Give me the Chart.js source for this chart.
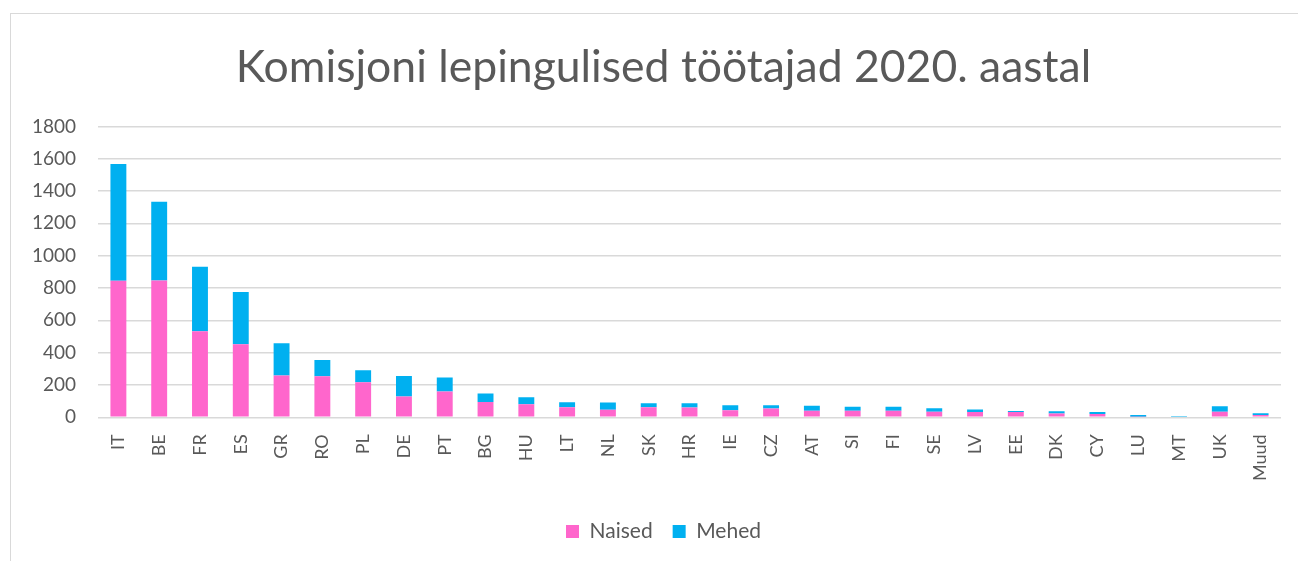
<!DOCTYPE html>
<html>
<head>
<meta charset="utf-8">
<script src="https://cdn.jsdelivr.net/npm/chart.js@4.4.0/dist/chart.umd.min.js"></script>
<style>
  html, body { margin: 0; padding: 0; background: #fff; }
  #frame {
    position: absolute; left: 10px; top: 13px; width: 1300px; height: 560px;
    border: 1px solid #d9d9d9; box-sizing: border-box;
  }
  #wrap { position: absolute; left: 0; top: 0; width: 1298px; height: 561px; }
</style>
</head>
<body>
<div id="frame"></div>
<div id="wrap"><canvas id="bar-chart"></canvas></div>
<script>
  // countries
  const countries = [
    "IT", "BE", "FR", "ES", "GR", "RO", "PL", "DE", "PT", "BG", "HU", "LT", "NL", "SK", "HR",
    "IE", "CZ", "AT", "SI", "FI", "SE", "LV", "EE", "DK", "CY", "LU", "MT", "UK", "Muud",
  ];
  // women / men per country
  const naised = [
    845, 847, 532, 452, 258, 254, 217, 128, 159, 95, 80, 62, 47, 62, 60,
    43, 54, 41, 40, 40, 35, 33, 33, 23, 21, 4, 5, 35, 14,
  ];
  const mehed = [
    722, 487, 400, 323, 200, 101, 74, 128, 87, 53, 44, 31, 44, 25, 27,
    31, 20, 31, 25, 25, 21, 16, 6, 14, 12, 10, 3, 33, 11,
  ];
  const yTicks = [0, 200, 400, 600, 800, 1000, 1200, 1400, 1600, 1800];

  const textColor = "#595959";
  const gridColor = "#d9d9d9";
  const fontFamily = "Lato, 'Open Sans', sans-serif";

  // title and legend sit a bit right of centre in the original
  const nudgeRight = {
    id: "nudgeRight",
    afterLayout: (chart) => {
      [chart.titleBlock, chart.legend].forEach((box) => {
        if (box) {
          box.left += 13;
          box.right += 13;
        }
      });
    },
  };

  const ctx = document.getElementById("bar-chart");
  new Chart(ctx, {
    type: "bar",
    data: {
      labels: countries,
      datasets: [
        {
          label: "Naised",
          data: naised,
          backgroundColor: "#ff66cc",
          barPercentage: 0.39,
          categoryPercentage: 1,
        },
        {
          label: "Mehed",
          data: mehed,
          backgroundColor: "#00b0f0",
          barPercentage: 0.39,
          categoryPercentage: 1,
        },
      ],
    },
    plugins: [nudgeRight],
    options: {
      responsive: true,
      maintainAspectRatio: false,
      animation: false,
      layout: {
        padding: { left: 20, right: 17, top: 41, bottom: 9 },
      },
      plugins: {
        title: {
          display: true,
          text: "Komisjoni lepingulised töötajad 2020. aastal",
          color: textColor,
          font: { family: fontFamily, size: 44.5, weight: "normal" },
          padding: { top: 0, bottom: 32 },
        },
        legend: {
          position: "bottom",
          labels: {
            color: textColor,
            font: { family: fontFamily, size: 21 },
            boxWidth: 13,
            boxHeight: 13,
            padding: 20,
          },
        },
        tooltip: { enabled: false },
      },
      scales: {
        x: {
          stacked: true,
          grid: { display: false },
          border: { display: false },
          afterFit: (scale) => {
            scale.height = scale.height + 11;
          },
          ticks: {
            color: textColor,
            font: { family: fontFamily, size: 18 },
            minRotation: 90,
            maxRotation: 90,
            autoSkip: false,
            padding: 9,
          },
        },
        y: {
          stacked: true,
          min: 0,
          max: 1800,
          afterBuildTicks: (scale) => {
            scale.ticks = yTicks.map((v) => ({ value: v }));
          },
          afterFit: (scale) => {
            scale.width = 78;
          },
          grid: { color: gridColor, lineWidth: 1.5, drawTicks: false },
          border: { display: false },
          ticks: {
            color: textColor,
            font: { family: fontFamily, size: 19 },
            padding: 22,
            callback: (v) => String(v),
          },
        },
      },
    },
  });
</script>
</body>
</html>
